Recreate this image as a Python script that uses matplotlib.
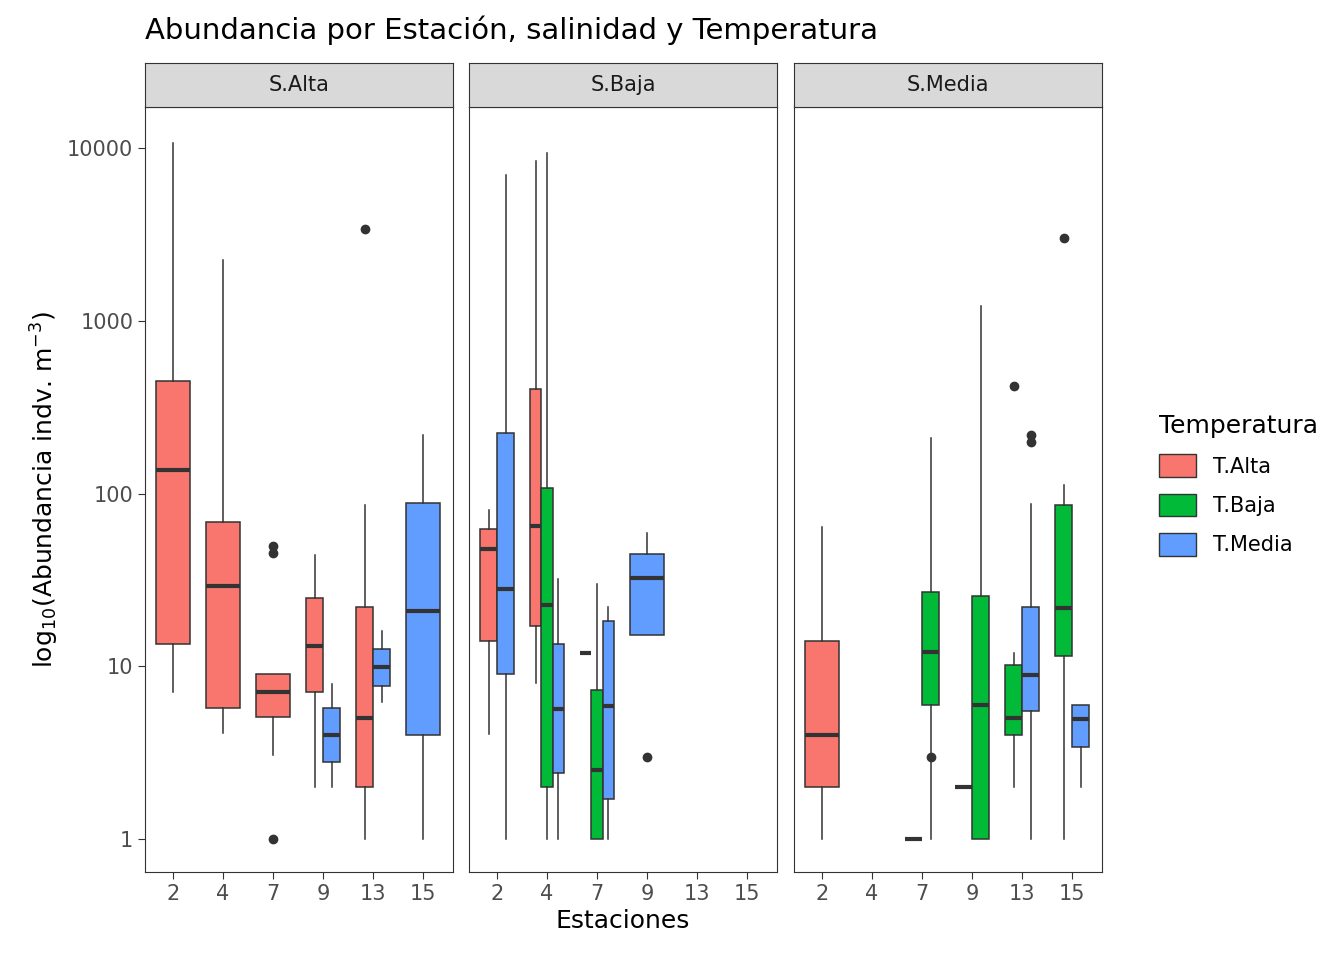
import matplotlib.pyplot as plt
from matplotlib.patches import Patch, Rectangle

estaciones = ["2", "4", "7", "9", "13", "15"]
paneles = ["S.Alta", "S.Baja", "S.Media"]
colores = {"T.Alta": "#F8766D", "T.Baja": "#00BA38", "T.Media": "#619CFF"}

# (estacion, [(grupo, whislo, q1, med, q3, whishi, outliers), ...])
s_alta = [
    ("2", [("T.Alta", 7.1, 13.5, 137, 448, 10700, [])]),
    ("4", [("T.Alta", 4.1, 5.7, 29, 68, 2250, [])]),
    ("7", [("T.Alta", 3.06, 5.1, 7.1, 9.0, 9.0, [50, 45, 1])]),
    ("9", [("T.Alta", 2, 7.1, 13.1, 24.8, 44, []),
           ("T.Media", 2, 2.8, 4, 5.7, 7.9, [])]),
    ("13", [("T.Alta", 1, 2, 5, 22, 86, [3400]),
            ("T.Media", 6.2, 7.7, 9.9, 12.6, 16, [])]),
    ("15", [("T.Media", 1, 4, 21, 88, 218, [])]),
]
s_baja = [
    ("2", [("T.Alta", 4.05, 14, 48, 62, 80, []),
           ("T.Media", 1, 9, 28, 224, 6980, [])]),
    ("4", [("T.Alta", 8, 17, 65, 403, 8400, []),
           ("T.Baja", 1, 2, 22.6, 108, 9350, []),
           ("T.Media", 1, 2.4, 5.66, 13.5, 32, [])]),
    ("7", [("T.Alta", 12, 12, 12, 12, 12, []),
           ("T.Baja", 1, 1, 2.5, 7.3, 30, []),
           ("T.Media", 1, 1.7, 5.9, 18.3, 22, [])]),
    ("9", [("T.Media", 15.2, 15.2, 32.4, 44.7, 59, [3])]),
]
s_media = [
    ("2", [("T.Alta", 1, 2, 4, 14, 64, [])]),
    ("7", [("T.Alta", 1, 1, 1, 1, 1, []),
           ("T.Baja", 1, 6.0, 12.1, 27, 210, [3])]),
    ("9", [("T.Alta", 2, 2, 2, 2, 2, []),
           ("T.Baja", 1, 1, 5.97, 25.5, 1220, [])]),
    ("13", [("T.Baja", 2, 4, 5, 10.2, 12, [419]),
            ("T.Media", 1, 5.5, 8.9, 22, 87, [218, 199])]),
    ("15", [("T.Baja", 1, 11.5, 21.7, 86, 112, [3010]),
            ("T.Media", 2, 3.4, 4.95, 6.0, 6.0, [])]),
]
datos = [s_alta, s_baja, s_media]

W, H = 1344, 960
fig = plt.figure(figsize=(W / 100, H / 100), dpi=100)
lefts = [145, 469, 794]
pw = 308
top, bot, strip_top = 107, 872, 63
ylo, yhi = 10 ** ((839 - 872) / 172.75), 10 ** ((839 - 107) / 172.75)
ancho = 0.68

for k, (nombre, panel) in enumerate(zip(paneles, datos)):
    ax = fig.add_axes([lefts[k] / W, 1 - bot / H, pw / W, (bot - top) / H])
    for est, grupos in panel:
        xc = estaciones.index(est)
        n = len(grupos)
        w = ancho / n
        for j, (g, lo, q1, med, q3, hi, outs) in enumerate(grupos):
            x = xc - ancho / 2 + w * (j + 0.5)
            st = dict(whislo=lo, q1=q1, med=med, q3=q3, whishi=hi, fliers=outs)
            ax.bxp([st], positions=[x], widths=w, patch_artist=True, showcaps=False,
                   boxprops=dict(facecolor=colores[g], edgecolor="#333333", linewidth=1.1),
                   medianprops=dict(color="#333333", linewidth=3),
                   whiskerprops=dict(color="#333333", linewidth=1.1),
                   flierprops=dict(marker="o", markerfacecolor="#333333",
                                   markeredgecolor="#333333", markersize=6))
    ax.set_yscale("log")
    ax.set_ylim(ylo, yhi)
    ax.set_xlim(-0.56, 5.6)
    ax.set_xticks(range(6))
    ax.set_xticklabels(estaciones)
    ax.tick_params(labelsize=15, colors="#333333", labelcolor="#4d4d4d", length=5)
    ax.minorticks_off()
    if k == 0:
        ax.set_yticks([1, 10, 100, 1000, 10000])
        ax.set_yticklabels(["1", "10", "100", "1000", "10000"])
        ax.set_ylabel(r"log$_{10}$(Abundancia indv. m$^{-3}$)", fontsize=18)
    else:
        ax.set_yticks([])
    for s in ax.spines.values():
        s.set_color("#333333")
    if k == 1:
        ax.set_xlabel("Estaciones", fontsize=18)
    sax = fig.add_axes([lefts[k] / W, 1 - top / H, pw / W, (top - strip_top) / H])
    sax.set_xticks([]); sax.set_yticks([])
    sax.set_facecolor("#d9d9d9")
    for s in sax.spines.values():
        s.set_color("#333333")
    sax.text(0.5, 0.5, nombre, ha="center", va="center", fontsize=15, color="#1a1a1a")

fig.text(145 / W, 1 - 30 / H, "Abundancia por Estación, salinidad y Temperatura",
         fontsize=21, va="center")
handles = [Patch(facecolor=c, edgecolor="#333333", label=g) for g, c in colores.items()]
leg = fig.legend(handles=handles, title="Temperatura", loc="upper left",
                 bbox_to_anchor=(1140 / W, 1 - 395 / H), frameon=False, fontsize=15,
                 title_fontsize=18, handlelength=1.8, handleheight=1.3, labelspacing=0.8)
leg._legend_box.align = "left"
fig.savefig("out.png", dpi=100)
